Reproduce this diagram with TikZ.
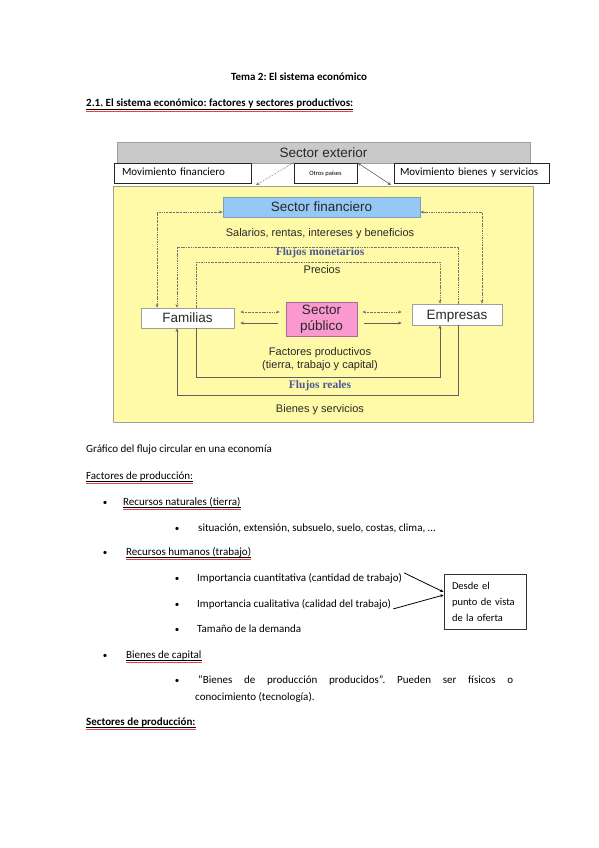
\documentclass[tikz,border=0pt]{standalone}
\usepackage{fontspec}
\setmainfont{Carlito}
\newfontfamily\arialf{Liberation Sans}
\newfontfamily\serf{Liberation Serif}
\usetikzlibrary{arrows.meta}
\definecolor{extgray}{RGB}{201,201,201}
\definecolor{yel}{RGB}{255,250,168}
\definecolor{finblue}{RGB}{150,200,245}
\definecolor{pubpink}{RGB}{250,152,208}
\definecolor{flujo}{RGB}{78,88,150}
\definecolor{dtext}{RGB}{40,40,40}
\definecolor{wavered}{RGB}{245,60,60}
\frenchspacing
\begin{document}
\begin{tikzpicture}[x=1pt,y=-1pt,
  >={Stealth[length=3.6pt,width=3pt]},
  body/.style={anchor=base west,inner sep=0pt,font=\fontsize{11}{13}\selectfont},
  bodyb/.style={anchor=base west,inner sep=0pt,font=\fontsize{11}{13}\selectfont\bfseries},
  uline/.style={line width=0.5pt},
  redwave/.style={draw=wavered,line width=0.7pt},
  bul/.style={anchor=base,inner sep=0pt,font=\fontsize{9}{11}\selectfont},
  dia/.style={font=\arialf\fontsize{11}{13}\selectfont,text=dtext,inner sep=0pt},
  flj/.style={font=\serf\bfseries\fontsize{11.5}{13}\selectfont,text=flujo,inner sep=0pt},
  bigbox/.style={draw=gray!75,line width=0.6pt,inner sep=0pt,font=\arialf\fontsize{13.5}{15}\selectfont,text=dtext},
  onel/.style={text height=10.8pt,text depth=1.2pt},
  smallbox/.style={draw=black!85,line width=0.7pt,fill=white,inner sep=0pt,font=\fontsize{11}{12}\selectfont,text height=7.5pt,text depth=2pt},
  dotl/.style={draw=black!55,line width=0.5pt,dash pattern=on 1.3pt off 0.9pt on 0.35pt off 0.9pt},
  soll/.style={draw=black!62,line width=0.6pt}
]
\useasboundingbox (0,0) rectangle (599,848);
\fill[white] (0,0) rectangle (599,848);

% ---------- headings ----------
\node[anchor=base,inner sep=0pt,font=\fontsize{11}{13}\selectfont\bfseries] (title) at (299,81) {Tema 2: El sistema económico};
\node[bodyb] (h21) at (86,107) {2.1. El sistema económico: factores y sectores productivos:};
\draw[uline] ([yshift=-1.8pt]h21.base west) -- ([yshift=-1.8pt]h21.base east);
\draw[redwave] ([yshift=-4.6pt]h21.base west) -- ([yshift=-4.6pt]h21.base east);

% ---------- diagram ----------
\node[bigbox,fill=yel,minimum width=420pt,minimum height=236pt] (yel) at (323,304) {};
\node[bigbox,onel,fill=extgray,minimum width=413pt,minimum height=21pt] (ext) at (323.5,152.5) {Sector exterior};
\node[smallbox,minimum width=137pt,minimum height=20pt,text width=121pt,align=left] (movf) at (182.5,173) {Movimiento financiero};
\node[smallbox,minimum width=63pt,minimum height=20pt,font=\fontsize{6.5}{7}\selectfont,text height=7pt,text depth=3pt] (otros) at (325.5,173) {Otros países};
\node[smallbox,minimum width=155pt,minimum height=20pt,text width=143pt,align=left] (movb) at (471.5,173) {Movimiento bienes y servicios};

\coordinate (ya) at (256,185);
\coordinate (yb) at (391,185);
\draw[dotl,->] (otros.north west) -- (ya);
\draw[soll,<->] (otros.north east) -- (yb);

\node[bigbox,onel,fill=finblue,draw=finblue!80!black,minimum width=197pt,minimum height=20pt] (fin) at (321.5,207) {Sector financiero};
\node[bigbox,onel,fill=white,minimum width=93pt,minimum height=20pt] (fam) at (187.5,318) {Familias};
\node[bigbox,onel,fill=white,minimum width=90pt,minimum height=21pt] (emp) at (457,314.5) {Empresas};
\node[bigbox,fill=pubpink,draw=pubpink!70!black,minimum width=71pt,minimum height=34pt,align=center,font=\arialf\fontsize{13.5}{15.5}\selectfont] (pub) at (321.5,319) {Sector\\público};

\node[dia] (sal) at (320,234) {Salarios, rentas, intereses y beneficios};
\node[flj] (fm) at (320,253) {Flujos monetarios};
\node[dia] (pre) at (322,269.5) {Precios};
\node[dia,align=center,font=\arialf\fontsize{11}{12.5}\selectfont] (fac) at (320,359) {Factores productivos\\(tierra, trabajo y capital)};
\node[flj] (fr) at (320,386) {Flujos reales};
\node[dia] (bie) at (320,410) {Bienes y servicios};

% outer dotted links to sector financiero
\draw[dotl,<->] ([xshift=-30.5pt]fam.north) |- ([yshift=-5pt]fin.west);
\draw[dotl,<->] ([xshift=25pt]emp.north) |- ([yshift=-5pt]fin.east);
% salaries
\coordinate (s1) at (177,247);
\draw[dotl,->] ([xshift=1pt]emp.north) |- (s1) -- (s1 |- fam.north);
% prices
\coordinate (p1) at (196,262);
\coordinate (p2) at (440,262);
\draw[dotl,->] (p1 |- fam.north) -- (p1) -- (p2) -- (p2 |- emp.north);
% factors
\coordinate (f1) at (196,377);
\coordinate (f2) at (440,377);
\draw[soll,->] (f1 |- fam.south) -- (f1) -- (f2) -- (f2 |- emp.south);
% goods
\coordinate (b1) at (458,395);
\coordinate (b2) at (177,395);
\draw[soll,->] (b1 |- emp.south) -- (b1) -- (b2) -- (b2 |- fam.south);
% public sector links
\draw[dotl,<->] ([xshift=6pt,yshift=6pt]fam.east) -- ([xshift=-6pt,yshift=7pt]pub.west);
\draw[soll,->] ([xshift=-8pt,yshift=-4pt]pub.west) -- ([xshift=6pt,yshift=-5pt]fam.east);
\draw[dotl,<->] ([xshift=5pt,yshift=7pt]pub.east) -- ([xshift=-10pt,yshift=2.5pt]emp.west);
\draw[soll,->] ([xshift=7pt,yshift=-4pt]pub.east) -- ([xshift=-10pt,yshift=-8.5pt]emp.west);

% ---------- body text ----------
\node[body] (graf) at (86,452) {Gráfico del flujo circular en una economía};

\node[body] (fp) at (86,479) {Factores de producción:};
\draw[uline] ([yshift=-1.8pt]fp.base west) -- ([yshift=-1.8pt]fp.base east);
\draw[redwave] ([yshift=-4.6pt]fp.base west) -- ([yshift=-4.6pt]fp.base east);

\node[bul] (b1n) at (105,505) {•};
\node[body] (rn) at (123,505) {Recursos naturales (tierra)};
\draw[uline] ([yshift=-1.8pt]rn.base west) -- ([yshift=-1.8pt]rn.base east);
\draw[redwave] ([yshift=-4.6pt]rn.base west) -- ([yshift=-4.6pt]rn.base east);

\node[bul] (b2n) at (177,531) {•};
\node[body] (sit) at (198,531) {situación, extensión, subsuelo, suelo, costas, clima, …};

\node[bul] (b3n) at (105,555) {•};
\node[body] (rh) at (126,555) {Recursos humanos (trabajo)};
\draw[uline] ([yshift=-1.8pt]rh.base west) -- ([yshift=-1.8pt]rh.base east);
\draw[redwave] ([yshift=-4.6pt]rh.base west) -- ([yshift=-4.6pt]rh.base east);

\node[bul] (b4n) at (177,581) {•};
\node[body] (cuan) at (197,581) {Importancia cuantitativa (cantidad de trabajo)};
\node[bul] (b5n) at (177,607) {•};
\node[body] (cual) at (197,607) {Importancia cualitativa (calidad del trabajo)};
\node[bul] (b6n) at (177,632) {•};
\node[body] (tam) at (197,632) {Tamaño de la demanda};

\node[draw=black!80,line width=0.8pt,minimum width=82pt,minimum height=55pt,text width=66pt,align=left,inner sep=0pt,font=\fontsize{10.5}{16}\selectfont] (des) at (485,601.5) {Desde el\\punto de vista\\de la oferta};
\draw[line width=0.8pt,->] ([xshift=2pt,yshift=5pt]cuan.east) -- ([yshift=9.5pt]des.west);
\draw[line width=0.8pt,->] ([xshift=2pt,yshift=-5pt]cual.east) -- ([yshift=6.5pt]des.west);

\node[bul] (b7n) at (105,658) {•};
\node[body] (bc) at (126,658) {Bienes de capital};
\draw[uline] ([yshift=-1.8pt]bc.base west) -- ([yshift=-1.8pt]bc.base east);
\draw[redwave] ([yshift=-4.6pt]bc.base west) -- ([yshift=-4.6pt]bc.base east);

\node[bul] (b8n) at (177,683) {•};
\node[body] (bp) at (198,683) {\makebox[315pt][s]{“Bienes de producción producidos”. Pueden ser físicos o}};
\node[body] (con) at (195,700) {conocimiento (tecnología).};

\node[bodyb] (sp) at (86,725) {Sectores de producción:};
\draw[uline] ([yshift=-1.8pt]sp.base west) -- ([yshift=-1.8pt]sp.base east);
\draw[redwave] ([yshift=-4.6pt]sp.base west) -- ([yshift=-4.6pt]sp.base east);
\end{tikzpicture}
\end{document}
